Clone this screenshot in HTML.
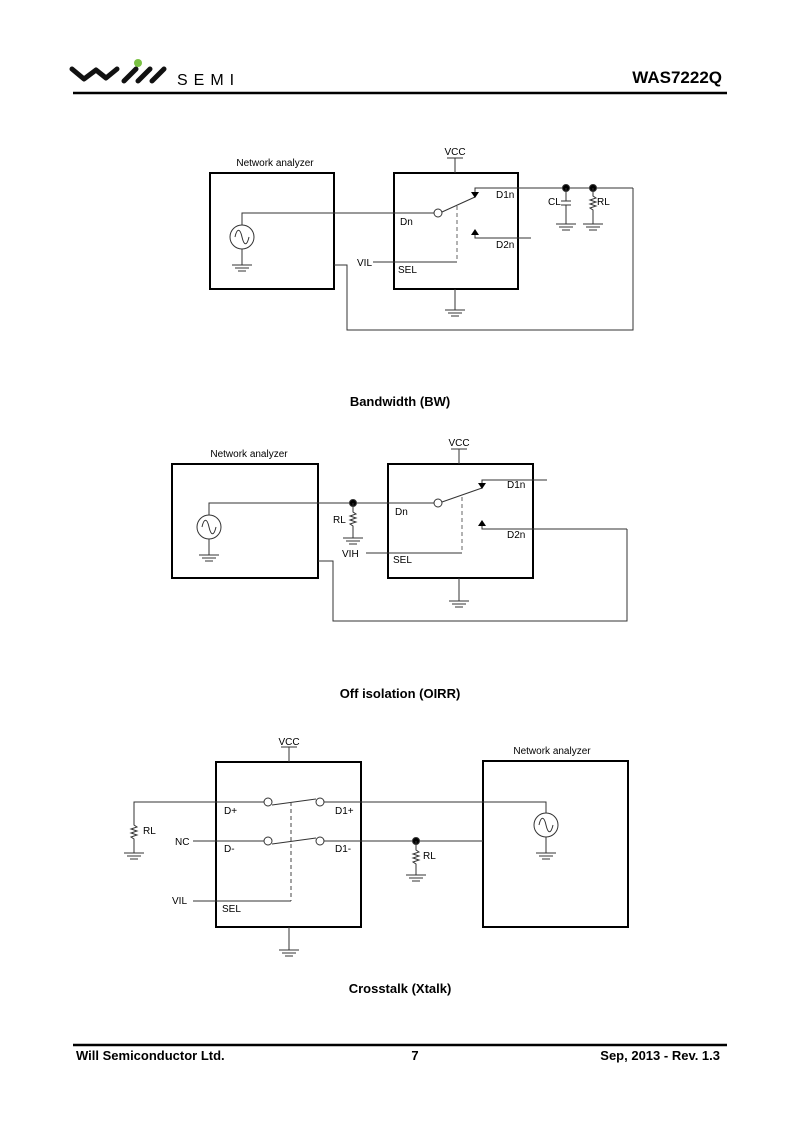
<!DOCTYPE html>
<html><head><meta charset="utf-8"><style>
html,body{margin:0;padding:0;background:#fff;}
svg{display:block;}
text{font-family:"Liberation Sans",Arial,sans-serif;fill:#000;}
</style></head><body>
<svg width="800" height="1132" viewBox="0 0 800 1132" xmlns="http://www.w3.org/2000/svg">
<defs>
<g id="gnd" stroke="#333" stroke-width="1"><line x1="-10" y1="0" x2="10" y2="0"/><line x1="-7" y1="3" x2="7" y2="3"/><line x1="-4" y1="6" x2="4" y2="6"/></g>
<g id="src" fill="none" stroke="#333" stroke-width="1"><circle cx="0" cy="0" r="12"/><path d="M-7,0 C-5,-9 -2,-9 0,0 C2,9 5,9 7,0"/></g>
<path id="res" d="M0,0 L0,3 L3,5 L-3,7 L3,9 L-3,11 L3,13 L-3,15 L0,17 L0,19" fill="none" stroke="#333" stroke-width="1"/>
</defs>

<!-- header -->
<g fill="none" stroke="#111" stroke-width="5" stroke-linecap="round" stroke-linejoin="round">
<path d="M72,69 L84,79 L96,70 L106,78 L117,69"/>
<line x1="124" y1="81" x2="136" y2="69"/>
<line x1="138" y1="81" x2="150" y2="69"/>
<line x1="152" y1="81" x2="164" y2="69"/>
</g>
<circle cx="138" cy="63" r="4" fill="#7ac143"/>
<text x="177" y="85" font-size="16" letter-spacing="6">SEMI</text>
<text x="722" y="83" font-size="17" font-weight="bold" text-anchor="end">WAS7222Q</text>
<line x1="73" y1="93" x2="727" y2="93" stroke="#000" stroke-width="2.5"/>

<g stroke="#333" stroke-width="1" fill="none">
<!-- Diagram 1 -->
<rect x="210" y="173" width="124" height="116" stroke="#000" stroke-width="2"/>
<rect x="394" y="173" width="124" height="116" stroke="#000" stroke-width="2"/>
<line x1="455" y1="158" x2="455" y2="173"/><line x1="447" y1="158" x2="463" y2="158"/>
<use href="#src" x="242" y="237"/>
<polyline points="242,225 242,213 434,213"/>
<circle cx="438" cy="213" r="4" fill="#fff"/>
<line x1="442" y1="212" x2="475" y2="197"/>
<polyline points="633,188 475,188 475,192"/>
<polygon points="471,192 479,192 475,198" fill="#000" stroke="none"/>
<polyline points="531,238 475,238 475,235"/>
<polygon points="471,235 479,235 475,229" fill="#000" stroke="none"/>
<polyline points="633,188 633,330 347,330 347,265 334,265"/>
<line x1="457" y1="206" x2="457" y2="262" stroke-dasharray="4,3" stroke="#666"/>
<line x1="373" y1="262" x2="457" y2="262"/>
<line x1="242" y1="249" x2="242" y2="265"/><use href="#gnd" x="242" y="265"/>
<line x1="455" y1="289" x2="455" y2="310"/><use href="#gnd" x="455" y="310"/>
<circle cx="566" cy="188" r="3.5" fill="#000"/><circle cx="593" cy="188" r="3.5" fill="#000"/>
<line x1="566" y1="188" x2="566" y2="201"/><line x1="561" y1="201" x2="571" y2="201"/><line x1="561" y1="205" x2="571" y2="205"/><line x1="566" y1="205" x2="566" y2="224"/>
<use href="#gnd" x="566" y="224"/>
<line x1="593" y1="188" x2="593" y2="193"/><use href="#res" x="593" y="193"/><line x1="593" y1="212" x2="593" y2="224"/><use href="#gnd" x="593" y="224"/>

<!-- Diagram 2 -->
<rect x="172" y="464" width="146" height="114" stroke="#000" stroke-width="2"/>
<rect x="388" y="464" width="145" height="114" stroke="#000" stroke-width="2"/>
<line x1="459" y1="449" x2="459" y2="464"/><line x1="451" y1="449" x2="467" y2="449"/>
<use href="#src" x="209" y="527"/>
<polyline points="209,515 209,503 434,503"/>
<circle cx="438" cy="503" r="4" fill="#fff"/>
<line x1="442" y1="502" x2="482" y2="488"/>
<polyline points="547,480 482,480 482,483"/>
<polygon points="478,483 486,483 482,489" fill="#000" stroke="none"/>
<polyline points="627,529 482,529 482,526"/>
<polygon points="478,526 486,526 482,520" fill="#000" stroke="none"/>
<polyline points="627,529 627,621 333,621 333,561 318,561"/>
<line x1="462" y1="497" x2="462" y2="553" stroke-dasharray="4,3" stroke="#666"/>
<line x1="366" y1="553" x2="462" y2="553"/>
<circle cx="353" cy="503" r="3.5" fill="#000"/>
<line x1="353" y1="503" x2="353" y2="509"/><use href="#res" x="353" y="509"/><line x1="353" y1="528" x2="353" y2="538"/><use href="#gnd" x="353" y="538"/>
<line x1="209" y1="539" x2="209" y2="555"/><use href="#gnd" x="209" y="555"/>
<line x1="459" y1="578" x2="459" y2="601"/><use href="#gnd" x="459" y="601"/>

<!-- Diagram 3 -->
<rect x="216" y="762" width="145" height="165" stroke="#000" stroke-width="2"/>
<rect x="483" y="761" width="145" height="166" stroke="#000" stroke-width="2"/>
<line x1="289" y1="747" x2="289" y2="762"/><line x1="281" y1="747" x2="297" y2="747"/>
<polyline points="134,822 134,802 264,802"/>
<circle cx="268" cy="802" r="4" fill="#fff"/><circle cx="320" cy="802" r="4" fill="#fff"/>
<line x1="272" y1="805" x2="316" y2="799"/>
<polyline points="324,802 546,802 546,813"/>
<use href="#src" x="546" y="825"/>
<line x1="546" y1="837" x2="546" y2="853"/><use href="#gnd" x="546" y="853"/>
<use href="#res" x="134" y="822"/><line x1="134" y1="841" x2="134" y2="853"/><use href="#gnd" x="134" y="853"/>
<line x1="193" y1="841" x2="264" y2="841"/>
<circle cx="268" cy="841" r="4" fill="#fff"/><circle cx="320" cy="841" r="4" fill="#fff"/>
<line x1="272" y1="844" x2="316" y2="838"/>
<line x1="324" y1="841" x2="483" y2="841"/>
<circle cx="416" cy="841" r="3.5" fill="#000"/>
<line x1="416" y1="841" x2="416" y2="847"/><use href="#res" x="416" y="847"/><line x1="416" y1="866" x2="416" y2="875"/><use href="#gnd" x="416" y="875"/>
<line x1="291" y1="802" x2="291" y2="901" stroke-dasharray="4,3" stroke="#444"/>
<line x1="193" y1="901" x2="291" y2="901"/>
<line x1="289" y1="927" x2="289" y2="950"/><use href="#gnd" x="289" y="950"/>
</g>

<g font-size="10">
<text x="275" y="166" text-anchor="middle">Network analyzer</text>
<text x="455" y="155" text-anchor="middle">VCC</text>
<text x="400" y="225">Dn</text>
<text x="496" y="198">D1n</text>
<text x="496" y="248">D2n</text>
<text x="357" y="266">VIL</text>
<text x="398" y="273">SEL</text>
<text x="548" y="205">CL</text>
<text x="597" y="205">RL</text>

<text x="249" y="457" text-anchor="middle">Network analyzer</text>
<text x="459" y="446" text-anchor="middle">VCC</text>
<text x="395" y="515">Dn</text>
<text x="507" y="488">D1n</text>
<text x="507" y="538">D2n</text>
<text x="333" y="523">RL</text>
<text x="342" y="557">VIH</text>
<text x="393" y="563">SEL</text>

<text x="289" y="745" text-anchor="middle">VCC</text>
<text x="552" y="754" text-anchor="middle">Network analyzer</text>
<text x="224" y="814">D+</text>
<text x="335" y="814">D1+</text>
<text x="224" y="852">D-</text>
<text x="335" y="852">D1-</text>
<text x="175" y="845">NC</text>
<text x="143" y="834">RL</text>
<text x="423" y="859">RL</text>
<text x="172" y="904">VIL</text>
<text x="222" y="912">SEL</text>
</g>

<g font-size="13" font-weight="bold" text-anchor="middle">
<text x="400" y="406">Bandwidth (BW)</text>
<text x="400" y="698">Off isolation (OIRR)</text>
<text x="400" y="993">Crosstalk (Xtalk)</text>
</g>

<line x1="73" y1="1045" x2="727" y2="1045" stroke="#000" stroke-width="2.5"/>
<g font-size="13" font-weight="bold">
<text x="76" y="1060">Will Semiconductor Ltd.</text>
<text x="415" y="1060" text-anchor="middle">7</text>
<text x="720" y="1060" text-anchor="end">Sep, 2013 - Rev. 1.3</text>
</g>
</svg>
</body></html>
